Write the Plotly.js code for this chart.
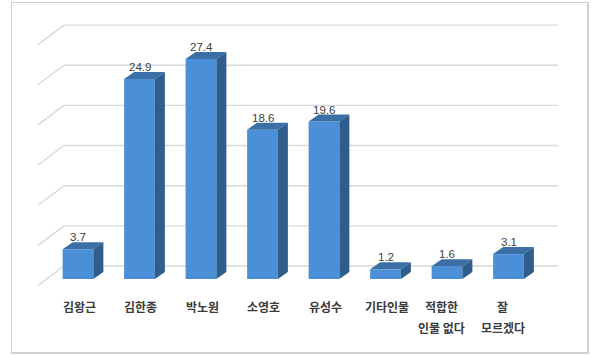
<!DOCTYPE html>
<html>
<head>
<meta charset="utf-8">
<script src="https://cdn.plot.ly/plotly-3.0.1.min.js"></script>
<style>html,body{margin:0;padding:0;background:#fff;}#chart{width:600px;height:355px;}</style>
</head>
<body>
<div id="chart"></div>
<script>
// ---- data ----
const categories = ["김왕근", "김한종", "박노원", "소영호", "유성수", "기타인물", "적합한<br>인물 없다", "잘<br>모르겠다"];
const values = [3.7, 24.9, 27.4, 18.6, 19.6, 1.2, 1.6, 3.1];
const gridValues = [0, 5, 10, 15, 20, 25, 30];

// ---- geometry (layout) ----
const W = 600, H = 355;
const M = {l: 12, r: 13, t: 3, b: 3};
const pxPerCat = 61.5;      // pixels per category step
const pxPerVal = 8.03;      // pixels per value unit
const firstCatPx = 78, zeroPx = 279;
const xRange = [(M.l - firstCatPx) / pxPerCat, (W - M.r - firstCatPx) / pxPerCat];
const yRange = [-(H - M.b - zeroPx) / pxPerVal, (zeroPx - M.t) / pxPerVal];
const dxU = px => px / pxPerCat, dyU = px => px / pxPerVal;

const barW = 0.5;
const depthX = dxU(10), depthY = dyU(7);
const xs = categories.map((c, i) => i);

const frontColor = '#4a8fd8', sideColor = '#2f5e8c', topColor = '#3b6fa6';

// top and side faces (derived from values)
const topX = [], topY = [], sideX = [], sideY = [];
values.forEach((v, i) => {
  const l = i - barW / 2, r = i + barW / 2;
  topX.push(l, r, r + depthX, l + depthX, l, null);
  topY.push(v, v, v + depthY, v + depthY, v, null);
  sideX.push(r, r, r + depthX, r + depthX, r, null);
  sideY.push(0, v, v + depthY, depthY, 0, null);
});

const traces = [
  {type: 'bar', x: xs, y: values, width: barW, marker: {color: frontColor, line: {width: 0}}, hoverinfo: 'skip'},
  {type: 'scatter', mode: 'lines', x: topX, y: topY, fill: 'toself', fillcolor: topColor, line: {width: 0, color: topColor}, hoverinfo: 'skip'},
  {type: 'scatter', mode: 'lines', x: sideX, y: sideY, fill: 'toself', fillcolor: sideColor, line: {width: 0, color: sideColor}, hoverinfo: 'skip'}
];

// back wall gridlines + side wall diagonals
const wallShiftY = dyU(13), wallDiagY = dyU(19.5);
const wallLeft = dxU(64 - firstCatPx), wallRight = dxU(558 - firstCatPx), sideFront = dxU(38 - firstCatPx);
const shapes = [];
gridValues.forEach(g => {
  const yb = g + wallShiftY;
  shapes.push({type: 'line', layer: 'below', xref: 'x', yref: 'y', x0: wallLeft, x1: wallRight, y0: yb, y1: yb, line: {color: '#d9d9d9', width: 1.4}});
  shapes.push({type: 'line', layer: 'below', xref: 'x', yref: 'y', x0: sideFront, x1: wallLeft, y0: yb - wallDiagY, y1: yb, line: {color: '#d9d9d9', width: 1.4}});
});

const annotations = [];
values.forEach((v, i) => {
  annotations.push({x: i, y: v, xref: 'x', yref: 'y', text: v.toFixed(1), showarrow: false,
    yanchor: 'middle', yshift: 12, font: {family: 'Liberation Sans, Arial, sans-serif', size: 11.5, color: '#404040'}});
});
categories.forEach((c, i) => {
  const lines = c.split('<br>');
  lines.forEach((line, k) => {
    annotations.push({x: i, y: 0, xref: 'x', yref: 'y', text: line, showarrow: false,
      xshift: lines.length > 1 ? -6 : 1,
      yanchor: 'middle', yshift: -(27 + 21 * k), font: {family: 'Noto Sans CJK KR, sans-serif', size: 12, weight: 'bold', color: '#3a3a3a'}});
  });
});

const layout = {
  width: W, height: H,
  margin: M,
  paper_bgcolor: '#ffffff', plot_bgcolor: '#ffffff',
  showlegend: false,
  xaxis: {range: xRange, showgrid: false, zeroline: false, showticklabels: false, ticks: '',
          showline: true, mirror: true, linecolor: '#cfcfcf', linewidth: 1.5, fixedrange: true},
  yaxis: {range: yRange, showgrid: false, zeroline: false, showticklabels: false, ticks: '',
          showline: true, mirror: true, linecolor: '#cfcfcf', linewidth: 1.5, fixedrange: true},
  shapes: shapes,
  annotations: annotations
};

Plotly.newPlot('chart', traces, layout, {displayModeBar: false, staticPlot: true});
</script>
</body>
</html>
